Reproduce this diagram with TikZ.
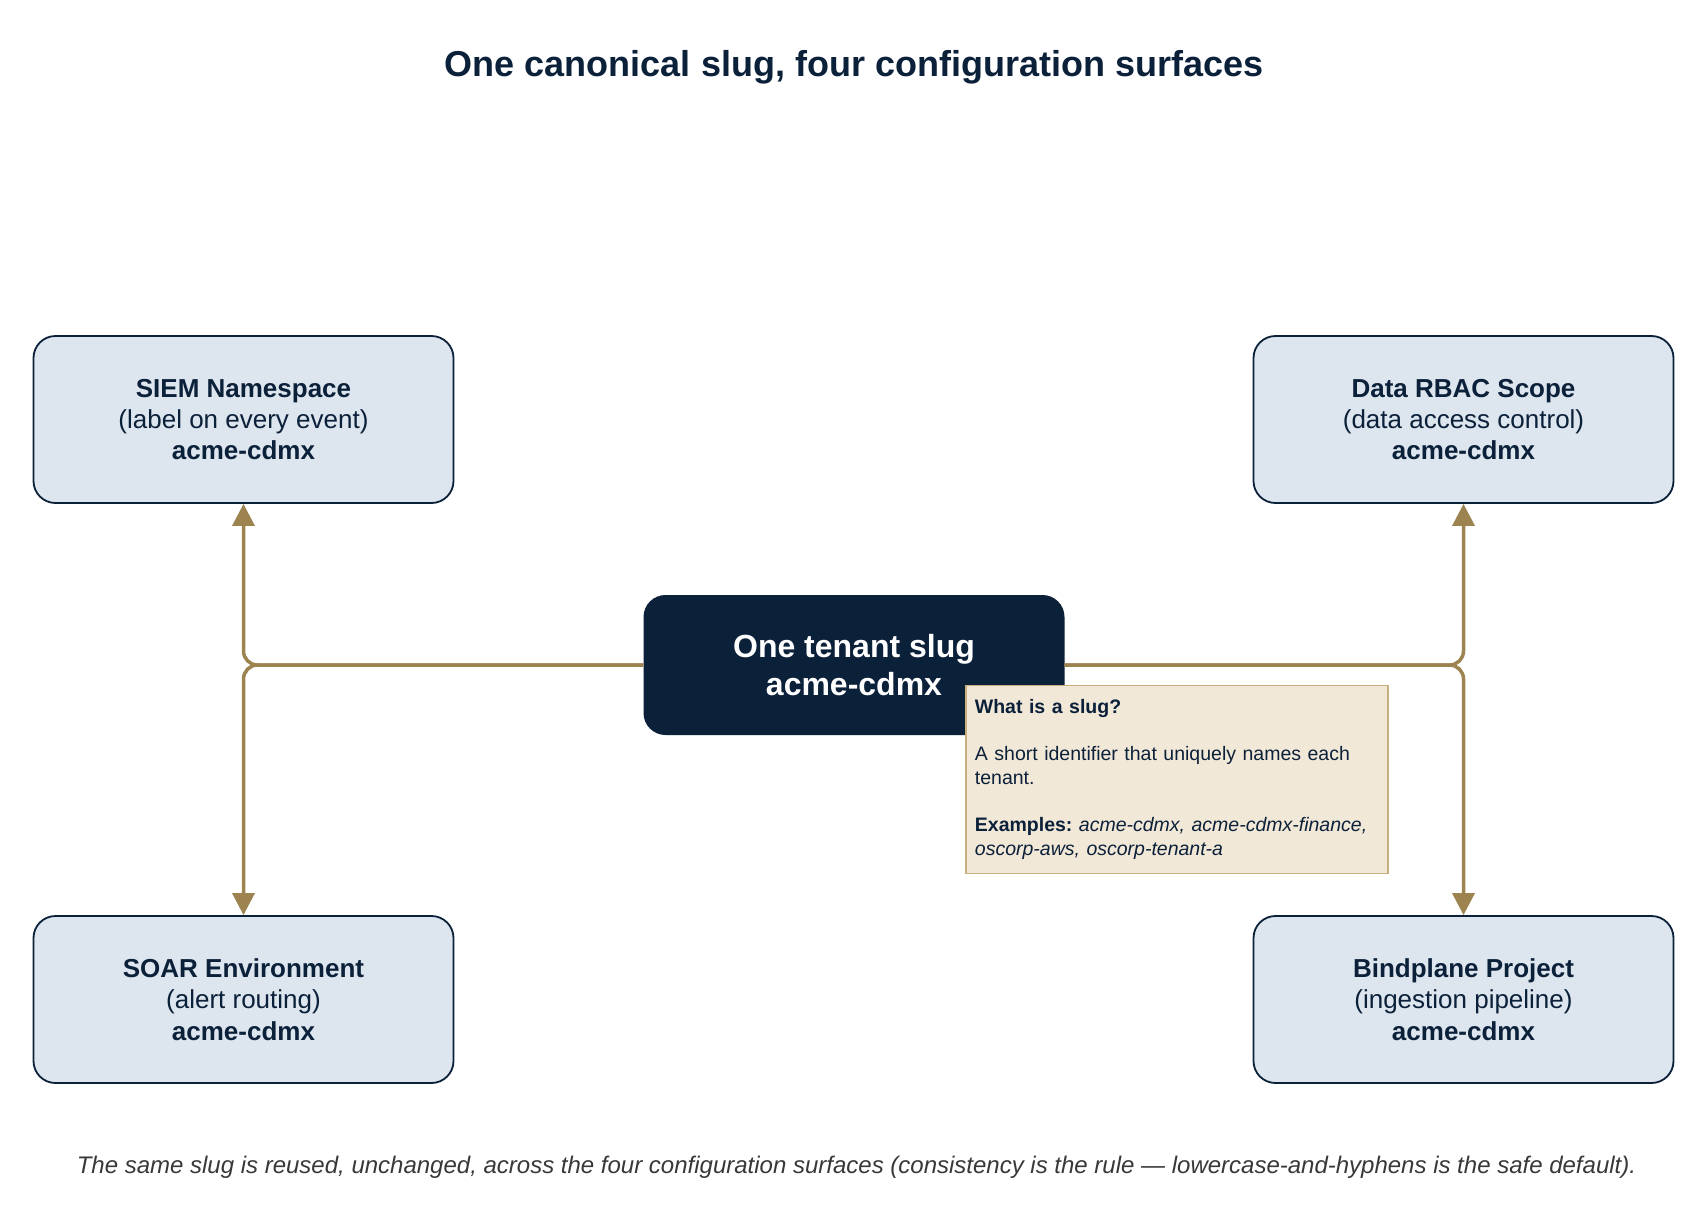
\documentclass[tikz,border=0pt]{standalone}
\usepackage{fontspec}
\setmainfont{Liberation Sans}
\usetikzlibrary{arrows.meta}

\definecolor{navy}{HTML}{0B2039}
\definecolor{boxfill}{HTML}{DDE5EE}
\definecolor{gold}{HTML}{9C8350}
\definecolor{notefill}{HTML}{F2E8D8}
\definecolor{noteline}{HTML}{C8AF7E}
\definecolor{footgray}{HTML}{383838}

\tikzset{
  surface/.style={draw=navy, line width=1.8pt, fill=boxfill, rounded corners=22pt,
    minimum width=420pt, minimum height=167pt, align=center, text=navy,
    font=\fontsize{26}{31.3}\selectfont},
  hub/.style={fill=navy, rounded corners=22pt, minimum width=421pt, minimum height=140pt,
    align=center, text=white, font=\fontsize{32}{37.6}\selectfont\bfseries},
  link/.style={draw=gold, line width=3.5pt, rounded corners=14pt,
    -{Triangle[width=22pt,length=22pt]}},
  note/.style={draw=noteline, line width=1.8pt, fill=notefill, text=navy,
    text width=404pt, inner xsep=9pt, minimum height=188pt, align=left,
    font=\fontsize{19.5}{23.6}\selectfont}
}

\begin{document}
\begin{tikzpicture}[x=1pt,y=-1pt]
    \useasboundingbox (0,0) rectangle (1693,1226);

    % title
    \node[text=navy, font=\fontsize{36}{43}\selectfont\bfseries] (title) at (854,67)
        {One canonical slug, four configuration surfaces};

    % four surfaces
    \node[surface] (siem) at (243.5,419.5)
        {\textbf{SIEM Namespace}\\(label on every event)\\\textbf{acme-cdmx}};
    \node[surface] (rbac) at (1463.5,419.5)
        {\textbf{Data RBAC Scope}\\(data access control)\\\textbf{acme-cdmx}};
    \node[surface] (soar) at (243.5,999.5)
        {\textbf{SOAR Environment}\\(alert routing)\\\textbf{acme-cdmx}};
    \node[surface] (bind) at (1463.5,999.5)
        {\textbf{Bindplane Project}\\(ingestion pipeline)\\\textbf{acme-cdmx}};

    % the slug
    \node[hub] (slug) at (854,665) {One tenant slug\\acme-cdmx};

    % connectors
    \draw[link] (slug.west) -| (siem.south);
    \draw[link] (slug.west) -| (soar.north);
    \draw[link] (slug.east) -| (rbac.south);
    \draw[link] (slug.east) -| (bind.north);

    % note
    \node[note, anchor=north west] (what) at (965,684.5)
        {\textbf{What is a slug?}\\[23.6pt]
         A short identifier that uniquely names each\\tenant.\\[23.6pt]
         \textbf{Examples:}~\textit{acme-cdmx, acme-cdmx-finance,}\\
         \textit{oscorp-aws, oscorp-tenant-a}};

    % footer
    \node[text=footgray, font=\fontsize{24}{28}\selectfont\itshape] (foot) at (856.5,1167)
        {The same slug is reused, unchanged, across the four configuration surfaces (consistency is the rule — lowercase-and-hyphens is the safe default).};
\end{tikzpicture}
\end{document}
